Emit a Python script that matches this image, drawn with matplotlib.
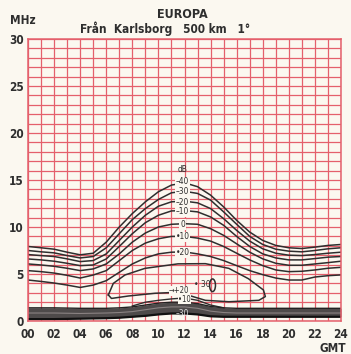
import numpy as np
import matplotlib.pyplot as plt
from matplotlib.patches import Ellipse

# =========================
#  Data
# =========================
hours = list(range(25))

# dB contour lines (MHz at each GMT hour)
level_names = ['-40', '-30', '-20', '-10', '0', '+10', '+20']
mhz_m40 = [7.93, 7.79, 7.64, 7.32, 7.04, 7.21, 8.39, 10.0, 11.43, 12.68, 13.75, 14.46, 14.7,
           14.29, 13.39, 12.14, 10.71, 9.46, 8.57, 8.04, 7.79, 7.71, 7.86, 8.04, 8.14]
mhz_m30 = [7.5, 7.36, 7.25, 6.96, 6.71, 6.86, 7.79, 9.29, 10.79, 11.96, 12.93, 13.64, 13.8,
           13.57, 12.86, 11.61, 10.29, 9.0, 8.14, 7.64, 7.43, 7.36, 7.5, 7.68, 7.79]
mhz_m20 = [7.07, 6.96, 6.86, 6.61, 6.32, 6.43, 7.14, 8.57, 10.0, 11.25, 12.21, 12.68, 12.75,
           12.57, 11.96, 10.89, 9.64, 8.5, 7.68, 7.21, 7.0, 6.96, 7.07, 7.21, 7.32]
mhz_m10 = [6.6, 6.5, 6.36, 6.14, 5.89, 5.96, 6.6, 7.93, 9.29, 10.46, 11.25, 11.71, 11.75,
           11.61, 11.07, 10.18, 9.0, 7.93, 7.14, 6.71, 6.5, 6.5, 6.64, 6.79, 6.86]
mhz_0 = [6.07, 5.96, 5.82, 5.61, 5.36, 5.54, 6.07, 7.14, 8.39, 9.36, 10.0, 10.29, 10.35,
         10.29, 9.82, 9.11, 8.21, 7.32, 6.61, 6.14, 5.93, 5.93, 6.07, 6.21, 6.36]
mhz_p10 = [5.36, 5.25, 5.1, 4.86, 4.57, 4.89, 5.36, 6.43, 7.5, 8.29, 8.75, 9.0, 9.0,
           8.82, 8.5, 7.93, 7.21, 6.5, 5.89, 5.43, 5.25, 5.29, 5.43, 5.61, 5.71]
mhz_p20 = [4.36, 4.21, 4.04, 3.82, 3.57, 3.82, 4.29, 5.18, 6.07, 6.71, 7.14, 7.32, 7.35,
           7.14, 6.86, 6.43, 5.89, 5.36, 4.93, 4.57, 4.36, 4.36, 4.68, 4.82, 4.9]
label_mhz = [14.8, 13.75, 12.65, 11.65, 10.3, 8.95, 7.3]

# inner +20 closed loop
loop_h = [6.16, 6.54, 7.44, 8.97, 11.5, 13.6, 15.4, 16.9, 18.05, 18.2, 17.7, 15.4, 13.6,
          12.4, 11.4, 9.74, 7.7, 6.4, 6.16]
loop_f = [2.77, 4.0, 4.9, 5.6, 6.08, 6.1, 5.6, 4.5, 3.3, 2.6, 2.2, 2.05, 2.2,
          2.7, 3.05, 2.95, 2.66, 2.4, 2.77]

# +10 line above the low band
p10b_h = [8, 9, 10, 11, 12, 13, 14, 15]
p10b_f = [1.6, 2.0, 2.2, 2.35, 2.45, 2.2, 1.7, 1.4]

# low frequency band (-30 etc.)
band_h = [0, 2, 4, 6, 7, 8, 9, 10, 11, 12, 13, 14, 15, 16, 18, 20, 22, 24]
band_top = [1.4, 1.4, 1.35, 1.35, 1.4, 1.5, 1.7, 1.9, 2.0, 2.0, 1.85, 1.55, 1.4, 1.35, 1.35, 1.35, 1.35, 1.35]
band_mid = [0.85, 0.85, 0.8, 0.85, 0.9, 1.0, 1.2, 1.4, 1.5, 1.5, 1.35, 1.05, 0.9, 0.85, 0.85, 0.85, 0.85, 0.85]
band_bot = [0.2, 0.2, 0.25, 0.3, 0.35, 0.45, 0.55, 0.7, 0.8, 0.8, 0.7, 0.5, 0.45, 0.45, 0.45, 0.45, 0.45, 0.45]

# +30 oval
oval_h, oval_f = 14.15, 3.8

bg = '#fbf8f0'
red = '#e4606c'
ink = '#2e2e2e'

plt.rcParams['font.family'] = ['DejaVu Sans']
plt.rcParams['font.stretch'] = 'condensed'

fig = plt.figure(figsize=(3.51, 3.54), dpi=100, facecolor=bg)
ax = fig.add_axes([28/351, 33/354, 313/351, 282/354], facecolor=bg)

ax.set_xlim(0, 24)
ax.set_ylim(0, 30)
ax.set_xticks(range(0, 25, 2))
ax.set_xticklabels(['%02d' % h for h in range(0, 25, 2)], fontweight='bold')
ax.set_yticks(range(0, 31, 5))
ax.set_yticklabels([str(v) for v in range(0, 31, 5)], fontweight='bold')
ax.set_xticks(range(25), minor=True)
ax.set_yticks(range(31), minor=True)
ax.grid(which='both', color=red, lw=0.9)
ax.tick_params(which='both', length=0, colors=ink, labelsize=8.5)
ax.tick_params(axis='x', pad=5)
ax.tick_params(axis='y', pad=3)
for s in ax.spines.values():
    s.set_color(red)
    s.set_linewidth(1.1)
ax.set_axisbelow(True)


def lab(name):
    if name.startswith('-'):
        return '\u2013' + name[1:]
    if name.startswith('+'):
        return '\u2022' + name[1:]
    return name


lines = [mhz_m40, mhz_m30, mhz_m20, mhz_m10, mhz_0, mhz_p10, mhz_p20]
for name, vals, ly in zip(level_names, lines, label_mhz):
    ax.plot(hours[:len(vals)], vals, color=ink, lw=1.1)
    ax.text(11.85, ly, lab(name), fontsize=6, color=ink, ha='center', va='center',
            bbox=dict(boxstyle='square,pad=0.1', fc=bg, ec='none'))
ax.text(11.85, 16.1, 'dB', fontsize=6, color=ink, ha='center', va='center')

ax.plot(loop_h, loop_f, color=ink, lw=1.1)
ax.plot(p10b_h, p10b_f, color=ink, lw=1.0)

ax.fill_between(band_h, band_bot, band_top, color='#4e4a4a', lw=0)
ax.plot(band_h, band_top, color='#222222', lw=1.0)
ax.plot(band_h, band_mid, color='#8a8282', lw=0.8)
ax.plot(band_h, band_bot, color='#111111', lw=1.6)

ax.add_patch(Ellipse((oval_h, oval_f), 0.45, 1.35, fill=False, ec=ink, lw=1.1))
ax.text(13.35, 3.85, '\u2022 30', fontsize=6, color=ink, ha='center', va='center')
ax.text(11.6, 3.2, '\u2192+20', fontsize=5.5, color=ink, ha='center', va='center',
        bbox=dict(boxstyle='square,pad=0.05', fc=bg, ec='none'))
ax.text(12.0, 2.3, '\u202210', fontsize=5.5, color=ink, ha='center', va='center',
        bbox=dict(boxstyle='square,pad=0.02', fc=bg, ec='none'))
ax.text(11.85, 0.8, '\u201330', fontsize=6, color='#dddddd', ha='center', va='center')

fig.text(182/351, 1 - 14/354, 'EUROPA', fontsize=9, fontweight='bold', color=ink, ha='center', va='center')
fig.text(80/351, 1 - 29/354, 'Från  Karlsborg   500 km   1°', fontsize=8.5, fontweight='bold',
         color=ink, ha='left', va='center')
fig.text(10/351, 1 - 21/354, 'MHz', fontsize=8.5, fontweight='bold', color=ink, ha='left', va='center')
fig.text(346/351, 1 - 348/354, 'GMT', fontsize=8.5, fontweight='bold', color=ink, ha='right', va='center')

plt.savefig('out.png', dpi=100, facecolor=bg)
